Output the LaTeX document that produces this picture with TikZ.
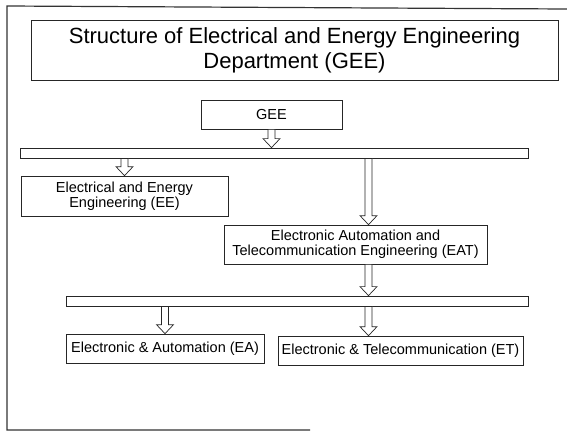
\documentclass[tikz,border=0pt]{standalone}
\usepackage{fontspec}
\setmainfont{Liberation Sans}
\usetikzlibrary{calc, positioning}
\tikzset{
  heading/.style={rectangle, draw=black!85, line width=0.8pt, inner sep=0pt,
                  minimum width=527pt, minimum height=60pt, align=center,
                  font=\fontsize{22}{25}\selectfont},
  unit/.style={rectangle, draw=black!85, line width=0.7pt, inner sep=0pt,
               minimum height=29pt, align=center,
               font=\fontsize{14.5}{15}\selectfont},
  bus/.style={rectangle, draw=black!85, line width=0.8pt, inner sep=0pt,
              minimum height=10pt},
  hollow/.style={draw=black!85, fill=white, line width=0.7pt, line join=miter},
  frame/.style={draw=black!80, line width=1.2pt},
}
% open arrow pointing down, x taken from the first point
\newcommand{\hollowdown}[2]{%
  \draw[hollow] let \p1=(#1), \p2=(#2) in
    (\x1-3.5pt,\y1) -- (\x1+3.5pt,\y1) -- (\x1+3.5pt,\y2+9pt)
    -- (\x1+8.5pt,\y2+9pt) -- (\x1,\y2) -- (\x1-8.5pt,\y2+9pt)
    -- (\x1-3.5pt,\y2+9pt) -- cycle;}

\begin{document}
\begin{tikzpicture}[x=1pt, y=-1pt]
  \useasboundingbox (0,0) rectangle (567,432);

  % Page frame
  \draw[frame] (310,430) -- (7,430) -- (7,6) -- (567,9);

  % Title
  \node[heading] (title) at (294.5,50)
    {Structure of Electrical and Energy Engineering\\Department (GEE)};

  % Department
  \node[unit, minimum width=141pt] (gee) at (271.5,114.5) {GEE};
  \node[bus, minimum width=508pt] (bar1) at (274,153) {};

  % Sections
  \node[unit, minimum width=207pt, minimum height=40pt] (ee) at (124.5,196)
    {Electrical and Energy\\Engineering (EE)};
  \node[unit, minimum width=263pt, minimum height=39pt] (eat) at (355.5,244.5)
    {Electronic Automation and\\Telecommunication Engineering (EAT)};
  \coordinate (eatx) at ([xshift=13pt]eat.north);

  % Sub-sections
  \node[bus, minimum width=462pt] (bar2) at (297,301) {};
  \node[unit, minimum width=198pt] (ea) at (165,348.5)
    {Electronic \& Automation (EA)};
  \node[unit, minimum width=245pt] (et) at (400.5,350.5)
    {Electronic \& Telecommunication (ET)};

  % Arrows
  \hollowdown{gee.south}{bar1.north}
  \hollowdown{bar1.south -| ee.north}{ee.north}
  \hollowdown{eatx |- bar1.south}{eat.north}
  \hollowdown{eatx |- eat.south}{bar2.north}
  \hollowdown{bar2.south -| ea.north}{ea.north}
  \hollowdown{eatx |- bar2.south}{et.north}

\end{tikzpicture}
\end{document}
